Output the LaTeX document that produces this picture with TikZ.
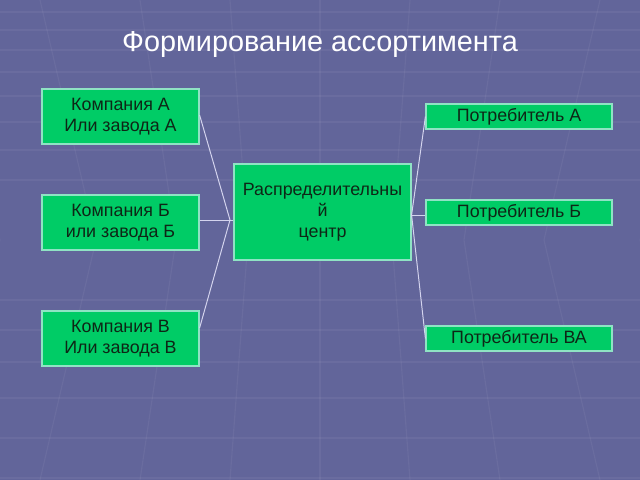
\documentclass[tikz,border=0pt]{standalone}
\usepackage{fontspec}
\setmainfont{Liberation Sans}
\definecolor{slidebg}{HTML}{62659A}
\definecolor{boxgreen}{HTML}{00CC66}
\definecolor{boxline}{HTML}{8FE3C4}
\definecolor{boxtext}{HTML}{0E2616}
\definecolor{linkline}{HTML}{D4D4EE}
\begin{document}
\begin{tikzpicture}[x=0.025cm,y=-0.025cm,
    firm/.style={draw=boxline,fill=boxgreen,text=boxtext,line width=0.8pt,
      minimum width=3.925cm,minimum height=1.375cm,align=center,
      font=\fontsize{12.7}{15}\selectfont},
    hub/.style={firm,minimum width=4.425cm,minimum height=2.4cm},
    buyer/.style={firm,minimum width=4.65cm,minimum height=0.625cm,inner sep=0pt},
    link/.style={draw=linkline,line width=0.7pt},
    gridline/.style={draw=white,opacity=0.05,line width=0.8pt}]
  % background with faint room grid
  \fill[slidebg] (0,0) rectangle (640,480);
  \useasboundingbox (0,0) rectangle (640,480);
  \foreach \y in {12,30,50,72,96,122,150,180,300,330,362,398,438,478}
    \draw[gridline] (0,\y) -- (640,\y);
  \foreach \x in {-200,-80,40,140,230,320,410,500,600,720,840}
    \draw[gridline] (\x,0) -- ({320+(\x-320)*0.8},240) -- (\x,480);

  \node[text=white,font=\fontsize{20.5}{24}\selectfont] (title) at (320,45) {Формирование ассортимента};

  % suppliers
  \node[firm] (firmA) at (120.5,116.5) {Компания А\\Или завода А};
  \node[firm] (firmB) at (120.5,222.5) {Компания Б\\или завода Б};
  \node[firm] (firmV) at (120.5,338.5) {Компания В\\Или завода В};

  \node[hub] (centre) at (322.5,212) {Распределительны\\й\\центр};

  % consumers
  \node[buyer] (userA) at (519,116.5) {Потребитель А};
  \node[buyer] (userB) at (519,212.5) {Потребитель Б};
  \node[buyer] (userVA) at (519,338.5) {Потребитель ВА};

  \coordinate (inJoin) at (230,220);
  \coordinate (outJoin) at (centre.east |- 0,215);
  \draw[link] (firmA.east |- 0,115) -- (inJoin);
  \draw[link] (firmB.east |- inJoin) -- (inJoin);
  \draw[link] (firmV.east |- 0,328) -- (inJoin);
  \draw[link] (inJoin) -- (centre.west |- inJoin);
  \draw[link] (outJoin) -- (userA.west);
  \draw[link] (outJoin) -- (userB.west |- outJoin);
  \draw[link] (outJoin) -- (userVA.west);
\end{tikzpicture}
\end{document}
